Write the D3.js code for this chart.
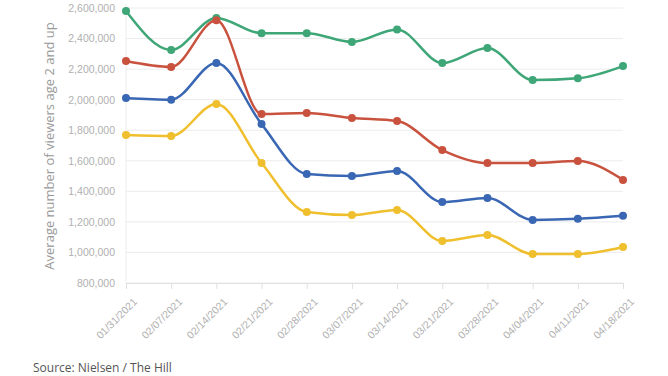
<!DOCTYPE html>
<html>
<head>
<meta charset="utf-8">
<script src="https://cdn.jsdelivr.net/npm/d3@7"></script>
<style>
  body { margin: 0; background: #fff; font-family: "Open Sans", Lato, sans-serif; }
  .grid line { stroke: #ececec; }
  .axis text { fill: #b0b0b0; font-size: 10.5px; }
  .axis path, .axis line { stroke: #e0e0e0; }
</style>
</head>
<body>
<svg id="chart" width="668" height="376"></svg>
<script>
// data
var dates = ["01/31/2021", "02/07/2021", "02/14/2021", "02/21/2021", "02/28/2021", "03/07/2021",
	"03/14/2021", "03/21/2021", "03/28/2021", "04/04/2021", "04/11/2021", "04/18/2021"];
var greenVals = [2580000, 2325000, 2535000, 2435000, 2435000, 2378000, 2460000, 2240000, 2338000, 2128000, 2140000, 2220000];
var redVals = [2253000, 2214000, 2520000, 1906000, 1913000, 1880000, 1860000, 1670000, 1585000, 1585000, 1598000, 1475000];
var blueVals = [2011000, 2000000, 2240000, 1840000, 1513000, 1500000, 1533000, 1330000, 1357000, 1213000, 1220000, 1240000];
var yellowVals = [1769000, 1762000, 1972000, 1585000, 1265000, 1245000, 1278000, 1075000, 1114000, 990000, 990000, 1036000];
var yTicks = [800000, 1000000, 1200000, 1400000, 1600000, 1800000, 2000000, 2200000, 2400000, 2600000];

var series = [
	{ values: greenVals, color: "#3ea677" },
	{ values: redVals, color: "#c9523e" },
	{ values: blueVals, color: "#3a67b3" },
	{ values: yellowVals, color: "#efbf2e" }
];

var svg = d3.select("#chart"),
	margin = { top: 8, left: 126, right: 45, bottom: 93 },
	width = +svg.attr("width"),
	height = +svg.attr("height");

var x = d3.scalePoint()
	.domain(dates)
	.range([margin.left, width - margin.right]);
var y = d3.scaleLinear()
	.domain([800000, 2600000])
	.range([height - margin.bottom, margin.top]);

// gridlines
svg.append("g").attr("class", "grid")
	.selectAll("line").data(yTicks).enter().append("line")
	.attr("x1", margin.left).attr("x2", width - margin.right)
	.attr("y1", function(d) { return y(d); })
	.attr("y2", function(d) { return y(d); });

// y axis
var g_y = svg.append("g").attr("class", "axis")
	.attr("transform", "translate(" + (margin.left - 8) + ",0)")
	.call(d3.axisLeft(y).tickValues(yTicks).tickSize(0).tickFormat(d3.format(",")));
g_y.select(".domain").remove();

svg.append("line")
	.attr("x1", margin.left).attr("x2", margin.left)
	.attr("y1", margin.top - 4).attr("y2", height - margin.bottom)
	.attr("stroke", "#ececec");

// x axis
var g_x = svg.append("g").attr("class", "axis")
	.attr("transform", "translate(0," + (height - margin.bottom) + ")")
	.call(d3.axisBottom(x).tickSize(6).tickSizeOuter(0));
g_x.select(".domain").attr("stroke", "#e6e6e6");
g_x.selectAll("text")
	.attr("text-anchor", "end")
	.attr("dx", "0")
	.attr("dy", "0")
	.attr("transform", "translate(5,13) rotate(-45)");

// y label
svg.append("text")
	.attr("transform", "translate(54,146) rotate(-90)")
	.attr("text-anchor", "middle")
	.attr("fill", "#999")
	.style("font-size", "13px")
	.text("Average number of viewers age 2 and up");

// lines
var line = d3.line()
	.x(function(d, i) { return x(dates[i]); })
	.y(function(d) { return y(d); })
	.curve(d3.curveMonotoneX);

var g_line = svg.append("g");
series.forEach(function(s) {
	g_line.append("path")
		.attr("d", line(s.values))
		.attr("fill", "none")
		.attr("stroke", s.color)
		.attr("stroke-width", 2.5);
	g_line.selectAll(null).data(s.values).enter().append("circle")
		.attr("cx", function(d, i) { return x(dates[i]); })
		.attr("cy", function(d) { return y(d); })
		.attr("r", 4)
		.attr("fill", s.color);
});

// source
svg.append("text")
	.attr("x", 33).attr("y", 372)
	.attr("fill", "#555")
	.style("font-size", "12px")
	.text("Source: Nielsen / The Hill");
</script>
</body>
</html>
